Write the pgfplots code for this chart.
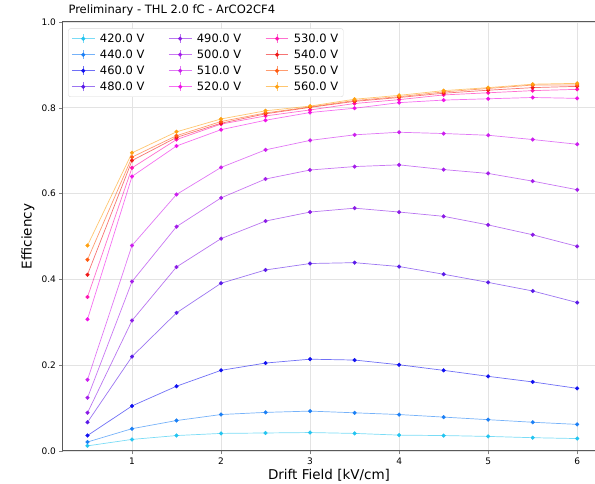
\documentclass[border=0pt]{standalone}
\usepackage{pgfplots}
\pgfplotsset{compat=1.18}
\usepackage{fontspec}
\setmainfont{DejaVu Sans}
\definecolor{c420}{HTML}{22C4F0}
\definecolor{c440}{HTML}{1A7FF5}
\definecolor{c460}{HTML}{1010F0}
\definecolor{c480}{HTML}{5A1AE8}
\definecolor{c490}{HTML}{8A1AE6}
\definecolor{c500}{HTML}{A41CEA}
\definecolor{c510}{HTML}{CC1EEE}
\definecolor{c520}{HTML}{F010E8}
\definecolor{c530}{HTML}{FF10B0}
\definecolor{c540}{HTML}{F01818}
\definecolor{c550}{HTML}{FF5A10}
\definecolor{c560}{HTML}{FFA010}
\pgfplotsset{
  ser/.style={color=#1, line width=0.7pt, draw opacity=0.6, mark=*, mark size=1.9pt,
    mark options={solid, draw opacity=1, fill opacity=1, fill=#1, draw=#1, line width=0.3pt}},
}
\begin{document}
\begin{tikzpicture}
\begin{axis}[
  name=ax,
  scale only axis,
  width=532pt, height=429pt,
  xmin=0.225, xmax=6.2, ymin=0, ymax=1.0,
  xtick={1,2,3,4,5,6},
  ytick={0,0.2,0.4,0.6,0.8,1.0},
  yticklabel style={/pgf/number format/.cd, fixed, fixed zerofill, precision=1},
  /pgf/number format/assume math mode=true,
  tick label style={font=\fontsize{9}{10}\selectfont},
  tick align=outside, tick pos=left,
  major tick length=3.5pt,
  grid=major, grid style={gray!22, line width=0.6pt},
  axis line style={gray!70!black, line width=1pt},
  xlabel={Drift Field [kV/cm]}, ylabel={Efficiency},
  label style={font=\fontsize{13.5}{15}\selectfont},
  xlabel style={at={(rel axis cs:0.5,0)}, anchor=center, yshift=-24pt},
  ylabel style={at={(rel axis cs:0,0.5)}, anchor=center, rotate=0, yshift=35pt},
  title={Preliminary - THL 2.0 fC - ArCO2CF4},
  title style={font=\fontsize{11.5}{13}\selectfont, at={(0,1)}, anchor=south west, xshift=2pt, yshift=-3.5pt},
  legend columns=4, transpose legend,
  legend style={at={(0.01,0.985)}, anchor=north west, font=\fontsize{11.5}{13}\selectfont,
    draw=gray!30, rounded corners=2pt, inner sep=3pt,
    /tikz/every even column/.append style={column sep=22pt},
    /tikz/every odd column/.append style={column sep=3pt},
    row sep=2pt},
  legend cell align=left,
  legend image code/.code={
    \draw[#1, mark=none] (0cm,0cm) -- (0.8cm,0cm);
    \draw[#1, mark=none] (0.4cm,-0.15cm) -- (0.4cm,0.15cm);
    \draw plot[#1] coordinates {(0.4cm,0cm)};
  },
]
\addplot[ser=c420] coordinates {(0.5,0.012)(1,0.027)(1.5,0.036)(2,0.041)(2.5,0.042)(3,0.043)(3.5,0.041)(4,0.037)(4.5,0.036)(5,0.034)(5.5,0.031)(6,0.029)};
\addlegendentry{420.0 V}
\addplot[ser=c440] coordinates {(0.5,0.021)(1,0.052)(1.5,0.071)(2,0.085)(2.5,0.090)(3,0.093)(3.5,0.089)(4,0.085)(4.5,0.079)(5,0.073)(5.5,0.067)(6,0.062)};
\addlegendentry{440.0 V}
\addplot[ser=c460] coordinates {(0.5,0.036)(1,0.105)(1.5,0.151)(2,0.188)(2.5,0.205)(3,0.214)(3.5,0.212)(4,0.201)(4.5,0.188)(5,0.174)(5.5,0.161)(6,0.146)};
\addlegendentry{460.0 V}
\addplot[ser=c480] coordinates {(0.5,0.067)(1,0.220)(1.5,0.322)(2,0.391)(2.5,0.422)(3,0.437)(3.5,0.439)(4,0.430)(4.5,0.412)(5,0.393)(5.5,0.373)(6,0.346)};
\addlegendentry{480.0 V}
\addplot[ser=c490] coordinates {(0.5,0.089)(1,0.304)(1.5,0.429)(2,0.495)(2.5,0.536)(3,0.557)(3.5,0.566)(4,0.557)(4.5,0.547)(5,0.527)(5.5,0.504)(6,0.477)};
\addlegendentry{490.0 V}
\addplot[ser=c500] coordinates {(0.5,0.124)(1,0.395)(1.5,0.523)(2,0.590)(2.5,0.634)(3,0.655)(3.5,0.663)(4,0.667)(4.5,0.656)(5,0.647)(5.5,0.629)(6,0.609)};
\addlegendentry{500.0 V}
\addplot[ser=c510] coordinates {(0.5,0.166)(1,0.479)(1.5,0.598)(2,0.661)(2.5,0.702)(3,0.724)(3.5,0.737)(4,0.743)(4.5,0.740)(5,0.736)(5.5,0.726)(6,0.715)};
\addlegendentry{510.0 V}
\addplot[ser=c520] coordinates {(0.5,0.307)(1,0.640)(1.5,0.711)(2,0.749)(2.5,0.771)(3,0.789)(3.5,0.799)(4,0.812)(4.5,0.818)(5,0.821)(5.5,0.824)(6,0.822)};
\addlegendentry{520.0 V}
\addplot[ser=c530] coordinates {(0.5,0.359)(1,0.660)(1.5,0.726)(2,0.762)(2.5,0.781)(3,0.795)(3.5,0.810)(4,0.819)(4.5,0.830)(5,0.835)(5.5,0.840)(6,0.843)};
\addlegendentry{530.0 V}
\addplot[ser=c540] coordinates {(0.5,0.411)(1,0.677)(1.5,0.731)(2,0.764)(2.5,0.786)(3,0.801)(3.5,0.815)(4,0.824)(4.5,0.834)(5,0.841)(5.5,0.847)(6,0.850)};
\addlegendentry{540.0 V}
\addplot[ser=c550] coordinates {(0.5,0.446)(1,0.685)(1.5,0.735)(2,0.768)(2.5,0.788)(3,0.802)(3.5,0.817)(4,0.826)(4.5,0.837)(5,0.845)(5.5,0.853)(6,0.853)};
\addlegendentry{550.0 V}
\addplot[ser=c560] coordinates {(0.5,0.479)(1,0.695)(1.5,0.744)(2,0.774)(2.5,0.793)(3,0.804)(3.5,0.820)(4,0.829)(4.5,0.840)(5,0.847)(5.5,0.855)(6,0.857)};
\addlegendentry{560.0 V}
\end{axis}
\pgfresetboundingbox
\path ([shift={(-63pt,-33pt)}]ax.south west) rectangle ([shift={(0pt,22pt)}]ax.north east);
\end{tikzpicture}
\end{document}
